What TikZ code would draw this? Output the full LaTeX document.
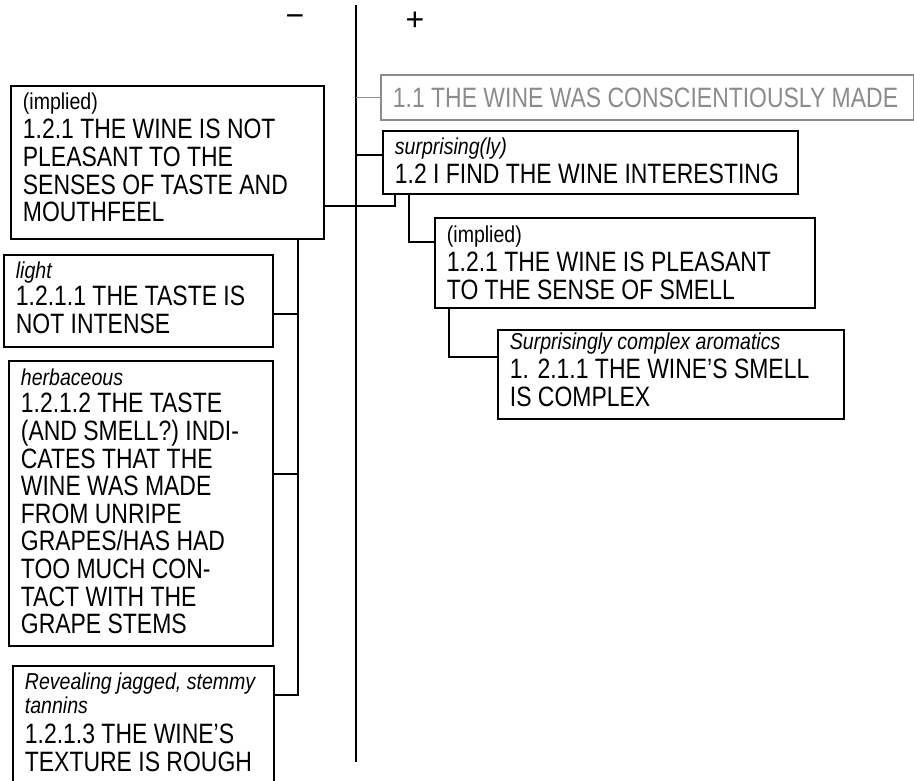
\documentclass[tikz,border=0pt]{standalone}
\usepackage{fontspec}
\setmainfont{Liberation Sans}
\newfontfamily\bigfam[FakeStretch=0.82]{Liberation Sans}
\newfontfamily\smfam[FakeStretch=0.85]{Liberation Sans}
\newcommand{\BF}{\bigfam\fontsize{28pt}{27.6pt}\selectfont}
\newcommand{\SI}{\smfam\itshape\fontsize{23pt}{24pt}\selectfont}
\newcommand{\SU}{\smfam\fontsize{23pt}{24pt}\selectfont}
% name, x, y, w, h, style, first-baseline offset, content
\newcommand{\bx}[8]{%
  \node[#6, minimum width=#4pt, minimum height=#5pt, inner sep=0pt, anchor=north west]
    (#1) at (#2pt,-#3pt)
    {\parbox[c][#5pt][t]{\dimexpr #4pt-24pt\relax}{\rule{0pt}{#7pt}#8}};%
}
\tikzset{
  boxst/.style={draw=black, line width=1.8pt, fill=white},
  greybox/.style={draw=black!45, line width=1.8pt, fill=white, text=black!45},
  ln/.style={draw=black, line width=1.8pt},
  lngrey/.style={draw=black!45, line width=1.8pt},
  signst/.style={font=\fontsize{32pt}{34pt}\selectfont, inner sep=0pt}
}
\begin{document}
\begin{tikzpicture}
\useasboundingbox (0,0) rectangle (914pt,-780pt);
% axis
\coordinate (axtop) at (356pt,-5pt);
\coordinate (axbot) at (356pt,-762pt);
\draw[ln] (axtop) -- (axbot);
\node[signst] (minus) at (295pt,-21pt) {−};
\node[signst] (plus) at (415pt,-21pt) {+};

% right side
\bx{A}{380}{74}{533}{45}{greybox}{33}{{\BF 1.1 THE WINE WAS CONSCIENTIOUSLY MADE}}
\bx{B}{382}{130}{415}{63}{boxst}{24}{{\SI surprising(ly)\par}\vspace{1.4pt}{\BF\mbox{1.2 I FIND THE WINE INTERESTING}\par}}
\bx{D}{434}{217}{380}{90}{boxst}{25}{{\SU (implied)\par}\vspace{1pt}{\BF\mbox{1.2.1 THE WINE IS PLEASANT}\\\mbox{TO THE SENSE OF SMELL}\par}}
\bx{E}{497}{329}{346}{89}{boxst}{20}{{\SI Surprisingly complex aromatics\par}\vspace{1.4pt}{\BF\mbox{1. 2.1.1 THE WINE’S SMELL}\\\mbox{IS COMPLEX}\par}}

% left side
\bx{C}{10}{85}{313}{153}{boxst}{24}{{\SU (implied)\par}\vspace{1.4pt}{\BF\mbox{1.2.1 THE WINE IS NOT}\\\mbox{PLEASANT TO THE}\\\mbox{SENSES OF TASTE AND}\\\mbox{MOUTHFEEL}\par}}
\bx{F}{3}{254}{269}{92}{boxst}{24}{{\SI light\par}\vspace{-0.6pt}{\BF\mbox{1.2.1.1 THE TASTE IS}\\\mbox{NOT INTENSE}\par}}
\bx{G}{8}{360}{264}{285}{boxst}{25}{{\SI herbaceous\par}\vspace{-0.6pt}{\BF\mbox{1.2.1.2 THE TASTE}\\\mbox{(AND SMELL?) INDI-}\\\mbox{CATES THAT THE}\\\mbox{WINE WAS MADE}\\\mbox{FROM UNRIPE}\\\mbox{GRAPES/HAS HAD}\\\mbox{TOO MUCH CON-}\\\mbox{TACT WITH THE}\\\mbox{GRAPE STEMS}\par}}
\bx{H}{12}{665}{261}{120}{boxst}{24}{{\SI\mbox{Revealing jagged, stemmy}\\\mbox{tannins}\par}\vspace{2.4pt}{\BF\mbox{1.2.1.3 THE WINE’S}\\\mbox{TEXTURE IS ROUGH}\par}}

% connectors right
\draw[lngrey] (A.west) -- (A.west -| axtop);
\draw[ln] ([yshift=7.5pt]B.west) -- ([yshift=7.5pt]B.west -| axtop);
\draw[ln] ([yshift=-43.5pt]C.east) -| ([xshift=13pt]B.south west);
\draw[ln] ([xshift=27pt]B.south west) |- ([yshift=21pt]D.west);
\draw[ln] ([xshift=15pt]D.south west) |- ([yshift=17.5pt]E.west);

% connectors left
\coordinate (stem) at ([xshift=288pt]C.south west);
\draw[ln] (stem) |- ([yshift=31pt]H.east);
\draw[ln] ([yshift=-13pt]F.east) -- ([yshift=-13pt]F.east -| stem);
\draw[ln] ([yshift=29.5pt]G.east) -- ([yshift=29.5pt]G.east -| stem);
\end{tikzpicture}
\end{document}
